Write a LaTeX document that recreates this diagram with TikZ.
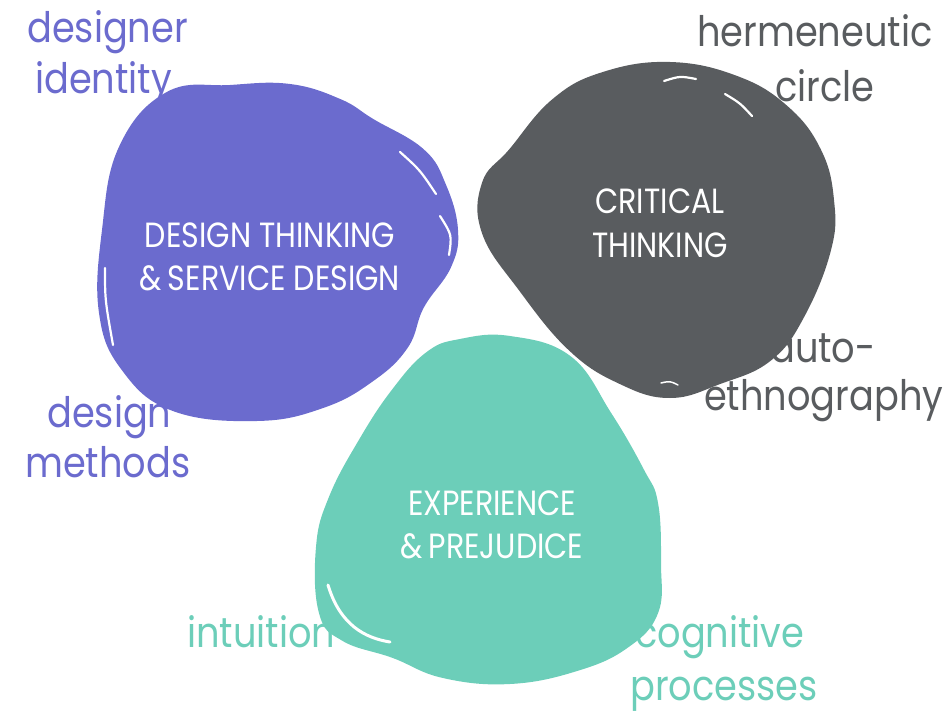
\documentclass[tikz,border=0pt]{standalone}
\usepackage{fontspec}
\setmainfont{Poppins}
\newfontfamily\lblfont[FakeStretch=0.875]{Poppins}
\newfontfamily\capfont[FakeStretch=0.86]{Poppins}
\definecolor{dtpurple}{HTML}{6B6BCE}
\definecolor{ctgray}{HTML}{595C5F}
\definecolor{epteal}{HTML}{6CCEB9}

\begin{document}
\begin{tikzpicture}[x=1pt,y=-1pt,
  lbl/.style={font=\lblfont\fontsize{42}{50}\selectfont, inner sep=0pt, anchor=base west},
  captext/.style={font=\capfont\fontsize{35}{42}\selectfont, text=white, inner sep=0pt, anchor=base},
  blob/.style={fill=#1, draw=#1, line width=2pt},
  gap/.style={draw=white, line width=2.2pt, line cap=round}]
\useasboundingbox (0,0) rectangle (949,714);

% labels that sit beneath the blobs
\node[lbl, text=dtpurple] (design) at (47,427) {design};
\node[lbl, text=epteal] (intuition) at (187,647) {intuition};

% design thinking blob
\fill[blob=dtpurple] plot[smooth cycle, tension=0.7] coordinates {
  (167,93) (230,86) (290,85) (340,100) (373,120) (423,150) (445,185)
  (457,230) (450,267) (423,307) (407,347) (373,380) (323,407) (257,420)
  (173,410) (123,370) (100,313) (103,230) (120,147)};
\draw[gap] (400,152) .. controls (420,170) .. (436,194);
\draw[gap] (440,216) .. controls (452,235) .. (449,255);
\draw[gap] (105,268) .. controls (105,300) .. (113,345);

% critical thinking blob
\fill[blob=ctgray] plot[smooth cycle, tension=0.7] coordinates {
  (603,73) (670,63) (737,77) (787,107) (820,150) (833,200) (830,250)
  (803,317) (770,360) (720,383) (670,397) (620,383) (570,350) (520,290)
  (483,233) (483,183) (510,150) (553,100)};
\draw[gap] (664,81) .. controls (680,76) .. (696,79);
\draw[gap] (725,94) .. controls (740,103) .. (752,116);
\draw[gap, line width=1.5pt] (661,383) .. controls (670,381) .. (678,385);

% experience blob
\fill[blob=epteal] plot[smooth cycle, tension=0.7] coordinates {
  (460,340) (510,337) (570,357) (610,413) (643,470) (657,503) (660,563)
  (657,613) (627,647) (577,670) (510,683) (443,677) (393,657) (343,640)
  (320,613) (317,547) (330,497) (360,440) (393,390) (427,353)};
\draw[gap, line width=3pt] (328,585) .. controls (340,625) and (365,638) .. (390,642);

% blob titles
\node[captext] (dt1) at (270,247) {DESIGN THINKING};
\node[captext] (dt2) at (270,290) {\&\,SERVICE DESIGN};
\node[captext] (ct1) at (660,213) {CRITICAL};
\node[captext] (ct2) at (660,257) {THINKING};
\node[captext] (ep1) at (492,515) {EXPERIENCE};
\node[captext] (ep2) at (492,558) {\&\,PREJUDICE};

% labels drawn over the blobs
\node[lbl, text=dtpurple] (designer) at (27,43) {designer};
\node[lbl, text=dtpurple] (identity) at (35,94) {identity};
\node[lbl, text=dtpurple] (methods) at (25,477) {methods};
\node[lbl, text=ctgray] (herm) at (697,47) {hermeneutic};
\node[lbl, text=ctgray] (circle) at (775,102) {circle};
\node[lbl, text=ctgray] (auto) at (770,362) {auto-};
\node[lbl, text=ctgray] (ethno) at (704,410) {ethnography};
\node[lbl, text=epteal] (cogn) at (635,647) {cognitive};
\node[lbl, text=epteal] (proc) at (630,700) {processes};
\end{tikzpicture}
\end{document}
